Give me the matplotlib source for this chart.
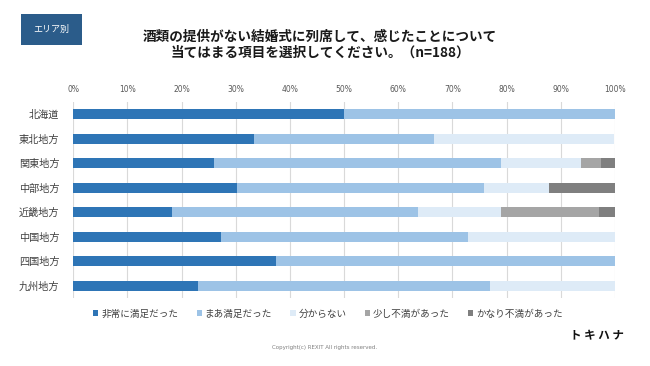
import matplotlib
matplotlib.use("Agg")
import matplotlib.pyplot as plt
from matplotlib.patches import Rectangle, Patch
import numpy as np

plt.rcParams['font.family'] = ['Noto Sans CJK JP', 'DejaVu Sans']

categories = ["北海道", "東北地方", "関東地方", "中部地方", "近畿地方", "中国地方", "四国地方", "九州地方"]
series_names = ["非常に満足だった", "まあ満足だった", "分からない", "少し不満があった", "かなり不満があった"]
very_satisfied = [50.0, 33.3, 25.9, 30.3, 18.2, 27.3, 37.5, 23.1]
somewhat_satisfied = [50.0, 33.3, 53.1, 45.5, 45.5, 45.5, 62.5, 53.8]
dont_know = [0.0, 33.3, 14.8, 12.1, 15.2, 27.3, 0.0, 23.1]
slightly_dissatisfied = [0.0, 0.0, 3.7, 0.0, 18.2, 0.0, 0.0, 0.0]
very_dissatisfied = [0.0, 0.0, 2.5, 12.1, 3.0, 0.0, 0.0, 0.0]
xticks = [0, 10, 20, 30, 40, 50, 60, 70, 80, 90, 100]
xtick_labels = [f"{v}%" for v in xticks]
colors = ["#2E75B6", "#9DC3E6", "#DEEBF7", "#A5A5A5", "#7F7F7F"]

fig = plt.figure(figsize=(6.5, 3.66), dpi=100)
ax = fig.add_axes([73.3/650, 1-298/366, (615-73.3)/650, 196/366])

data = [very_satisfied, somewhat_satisfied, dont_know, slightly_dissatisfied, very_dissatisfied]
y = np.arange(len(categories))
left = np.zeros(len(categories))
for name, vals, c in zip(series_names, data, colors):
    vals = np.array(vals)
    ax.barh(y, vals, left=left, height=0.41, color=c, label=name, zorder=3)
    left += vals

ax.set_xlim(0, 100)
ax.set_ylim(7.5, -0.5)
ax.set_xticks(xticks)
ax.set_xticklabels(xtick_labels, fontsize=5.5, color="#595959", family=['DejaVu Sans'])
ax.xaxis.tick_top()
ax.tick_params(axis='x', length=0, pad=6)
ax.set_yticks(y)
ax.set_yticklabels(categories, fontsize=7.3, color="#404040")
ax.tick_params(axis='y', length=0, pad=10)
ax.grid(axis='x', color="#D9D9D9", linewidth=0.8, zorder=0)
for s in ax.spines.values():
    s.set_visible(False)

handles = [Patch(facecolor=c, edgecolor='none') for c in colors]
fig.legend(handles, series_names, loc='center', bbox_to_anchor=(328/650, 1-314/366),
           ncol=5, frameon=False, fontsize=6.9, handlelength=0.55, handleheight=0.55,
           handletextpad=0.3, columnspacing=1.9, labelcolor="#404040")

# header box
fig.patches.append(Rectangle((20.7/650, 1-45/366), 61.3/650, 31/366, transform=fig.transFigure,
                             facecolor="#2B5C8A", edgecolor='none'))
fig.text(51/650, 1-29.5/366, "エリア別", ha='center', va='center', fontsize=6.5, color='white')

fig.text(320/650, 1-37/366, "酒類の提供がない結婚式に列席して、感じたことについて", ha='center', va='center',
         fontsize=9.8, fontweight='bold', color='#1a1a1a')
fig.text(320/650, 1-53/366, "当てはまる項目を選択してください。（n=188）", ha='center', va='center',
         fontsize=9.8, fontweight='bold', color='#1a1a1a')

fig.text(597/650, 1-336/366, "ト キ ハ ナ", ha='center', va='center', fontsize=8.3, fontweight='bold', color='#111111')
fig.text(325/650, 1-347/366, "Copyright(c) REXIT All rights reserved.", ha='center', va='center',
         fontsize=4, color='#7f7f7f', family=['DejaVu Sans'])

fig.savefig("out.png", dpi=100)
